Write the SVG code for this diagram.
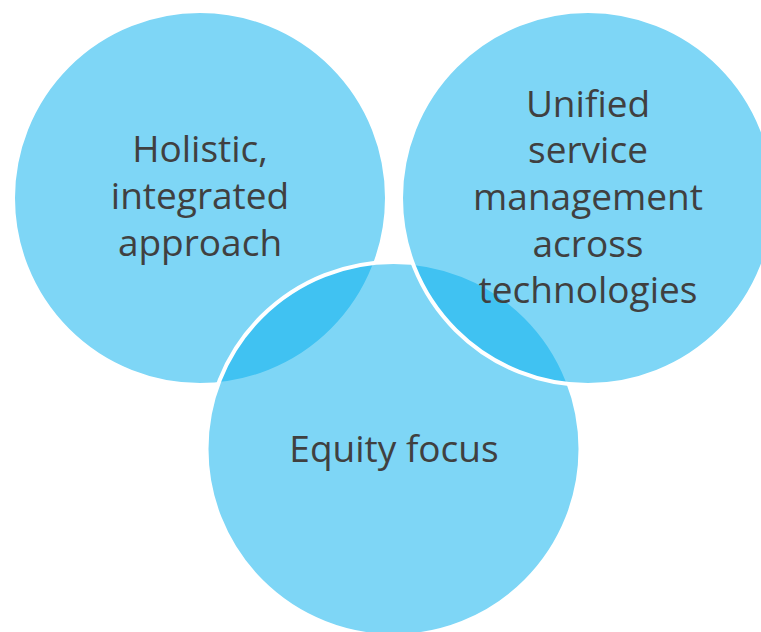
<svg xmlns="http://www.w3.org/2000/svg" width="761" height="632" viewBox="0 0 761 632">
  <style>
    .c { fill: #07B0EE; fill-opacity: 0.52; stroke: #FFFFFF; stroke-width: 4; }
    .t { font-family: "Open Sans", "Noto Sans", "Liberation Sans", sans-serif; font-size: 37px; fill: #404040; text-anchor: middle; }
  </style>
  <rect x="0" y="0" width="761" height="632" fill="#FFFFFF"/>
  <g id="node-holistic">
    <circle class="c" cx="200" cy="198" r="187"/>
    <text class="t" x="200" y="162">Holistic,</text>
    <text class="t" x="200" y="209">integrated</text>
    <text class="t" x="200" y="256">approach</text>
  </g>
  <g id="node-equity">
    <circle class="c" cx="393.5" cy="449" r="187"/>
    <text class="t" x="394" y="462">Equity focus</text>
  </g>
  <g id="node-unified">
    <circle class="c" cx="588" cy="198" r="187"/>
    <text class="t" x="588" y="117">Unified</text>
    <text class="t" x="588" y="163">service</text>
    <text class="t" x="588" y="210">management</text>
    <text class="t" x="588" y="257">across</text>
    <text class="t" x="588" y="303">technologies</text>
  </g>
  <g id="connectors"></g>
</svg>
